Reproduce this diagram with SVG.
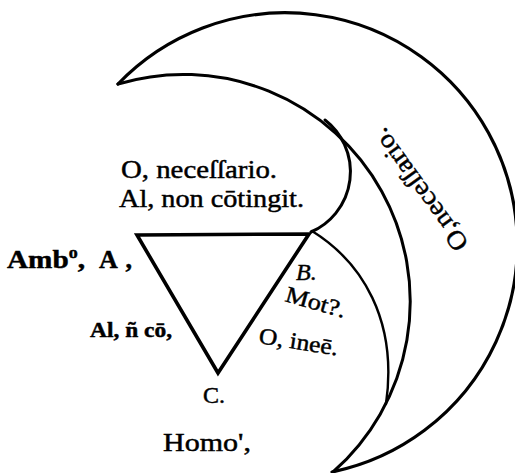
<svg xmlns="http://www.w3.org/2000/svg" width="515" height="473" viewBox="0 0 515 473">
<style>
.ln{fill:none;stroke:#000;stroke-linecap:round;stroke-linejoin:miter}
.t{font-family:"Liberation Serif","Times New Roman",serif;fill:#000;stroke:#000;stroke-width:0.45}
</style>
<rect width="515" height="473" fill="#fff"/>
<g id="connectors">
<path id="outer-arc" class="ln" stroke-width="3.2" d="M118,84 A232,232 0 1 1 332,472"/>
<path id="inner-arc" class="ln" stroke-width="3" d="M118,84 A227,227 0 0 1 333,472"/>
<path id="bulge-arc" class="ln" stroke-width="3" d="M325,120 A65.6,65.6 0 0 1 311,232"/>
<path id="lower-arc" class="ln" stroke-width="2.4" d="M312,231 C362,262 398,320 386,404"/>
</g>
<g id="triangle">
<path class="ln" stroke-width="3.6" d="M137,235 L309,234 L218,373 Z"/>
</g>
<g id="label-top">
<text class="t" x="121" y="178" font-size="25" textLength="156" lengthAdjust="spacingAndGlyphs">O, neceſſario.</text>
<text class="t" x="119" y="207" font-size="25" textLength="185" lengthAdjust="spacingAndGlyphs">Al, non cōtingit.</text>
</g>
<g id="node-A">
<text class="t" x="7" y="268" font-size="26" font-weight="bold" textLength="78" lengthAdjust="spacingAndGlyphs">Amb<tspan font-size="16" dy="-10">o</tspan><tspan dy="10">,</tspan></text>
<text class="t" x="99" y="268" font-size="26" font-weight="bold" textLength="33" lengthAdjust="spacing">A,</text>
</g>
<g id="label-AC">
<text class="t" x="90" y="337" font-size="21" font-weight="bold" textLength="82" lengthAdjust="spacingAndGlyphs">Al, ñ cō,</text>
</g>
<g id="node-B">
<text class="t" x="296" y="280" font-size="24" font-style="italic">B.</text>
<text class="t" font-size="23" transform="translate(284,301) rotate(16)" textLength="62" lengthAdjust="spacingAndGlyphs">Mot?.</text>
<text class="t" font-size="23" transform="translate(258,343) rotate(9)" textLength="80" lengthAdjust="spacingAndGlyphs">O, ineē.</text>
</g>
<g id="node-C">
<text class="t" x="203" y="403" font-size="24">C.</text>
<text class="t" x="163" y="451" font-size="25" textLength="88" lengthAdjust="spacingAndGlyphs">Homo',</text>
</g>
<g id="label-crescent">
<text class="t" font-size="26" transform="translate(469.5,243.5) rotate(234)" textLength="145" lengthAdjust="spacingAndGlyphs">O,neceſſario.</text>
</g>
</svg>
